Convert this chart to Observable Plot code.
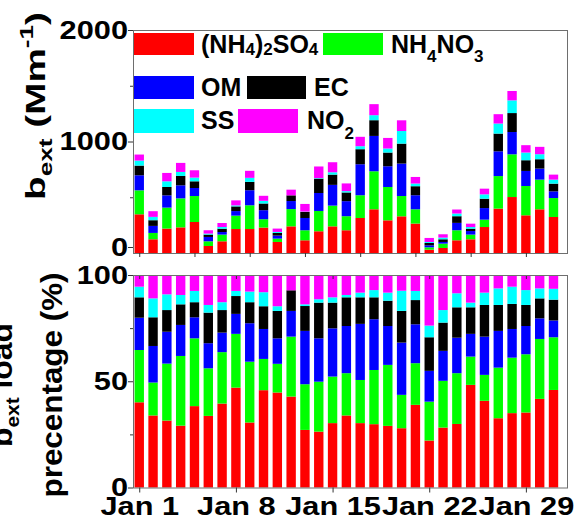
<!DOCTYPE html>
<html>
<head>
<meta charset="utf-8">
<script src="https://cdn.jsdelivr.net/npm/d3@7"></script>
<script src="https://cdn.jsdelivr.net/npm/@observablehq/plot@0.6"></script>
<style>
  body { margin: 0; background: #fff; }
  #chart { position: relative; width: 574px; height: 519px; overflow: hidden; }
  #chart svg { display: block; }
</style>
</head>
<body>
<div id="chart"></div>
<script>
// Days of January
const days = d3.range(1, 32);
const topTickDays = [1, 5, 9, 13, 17, 21, 25, 29];
const labelDays = [1, 8, 15, 22, 29];
const monthLabel = "Jan";

const species = ["(NH4)2SO4", "NH4NO3", "OM", "EC", "SS", "NO2"];
const speciesColors = ["#ff0000", "#00ff00", "#0000ff", "#000000", "#00ffff", "#ff00ff"];

// Light extinction by species (Mm-1)
const extSulfate = [347, 123, 219, 230, 278, 63, 105, 215, 215, 228, 99, 239, 114, 195, 239, 204, 314, 392, 293, 329, 264, 30, 45, 114, 123, 233, 398, 502, 338, 392, 323];
const extNitrate = [215, 57, 188, 260, 233, 42, 60, 120, 213, 75, 30, 155, 90, 182, 186, 126, 204, 341, 299, 182, 128, 21, 39, 90, 42, 66, 292, 383, 263, 266, 170];
const extOM      = [135, 63, 110, 117, 72, 39, 23, 41, 135, 81, 27, 72, 110, 161, 186, 135, 278, 317, 186, 291, 126, 18, 15, 66, 32, 104, 222, 200, 135, 99, 60];
const extEC      = [87, 51, 75, 84, 60, 21, 30, 42, 75, 60, 24, 51, 54, 129, 92, 78, 135, 141, 123, 179, 81, 21, 24, 60, 21, 84, 159, 170, 96, 84, 69];
const extSS      = [45, 30, 51, 36, 33, 9, 15, 9, 36, 24, 9, 0, 3, 5, 21, 12, 27, 45, 36, 113, 24, 9, 15, 24, 15, 39, 90, 114, 69, 45, 36];
const extNO2     = [54, 51, 75, 81, 66, 30, 36, 45, 63, 45, 30, 51, 69, 104, 90, 69, 84, 99, 95, 96, 59, 36, 30, 36, 30, 51, 84, 84, 66, 66, 45];

// Share of total extinction by species (%)
const pctSulfate = [40.1, 33.9, 31.5, 29.1, 38.3, 33.7, 39.5, 47.0, 30.6, 45.8, 44.7, 42.8, 27.1, 26.3, 30.3, 33.9, 30.3, 29.8, 29.0, 27.9, 38.9, 22.1, 28.2, 29.9, 48.3, 40.8, 32.6, 35.0, 35.3, 41.7, 45.9];
const pctNitrate = [24.6, 15.5, 26.8, 32.8, 31.9, 22.4, 24.2, 25.3, 28.6, 14.7, 13.5, 28.2, 21.5, 23.5, 21.9, 19.9, 20.3, 25.5, 28.7, 15.7, 19.6, 18.3, 22.0, 23.9, 13.3, 12.2, 23.8, 26.1, 27.4, 28.2, 24.8];
const pctOM      = [15.2, 17.2, 15.0, 14.6, 9.9, 11.8, 9.2, 9.4, 18.1, 14.1, 12.0, 12.1, 25.1, 20.4, 22.7, 22.2, 26.4, 23.9, 18.3, 24.6, 18.3, 14.5, 14.1, 16.7, 10.7, 18.0, 17.3, 13.5, 13.3, 9.7, 7.9];
const pctEC      = [9.6, 13.5, 10.2, 9.7, 7.1, 14.4, 10.6, 8.4, 9.9, 10.7, 12.9, 9.7, 11.7, 16.8, 12.1, 13.5, 12.5, 10.3, 11.9, 14.9, 11.4, 15.8, 13.3, 14.3, 12.5, 14.9, 12.2, 11.8, 9.9, 9.4, 9.8];
const pctSS      = [5.0, 8.9, 7.4, 4.4, 5.3, 3.6, 3.7, 2.4, 5.0, 6.6, 2.2, 0, 0.8, 1.6, 2.5, 1.1, 2.2, 3.4, 3.8, 9.5, 4.3, 5.5, 5.9, 6.6, 2.2, 5.8, 7.8, 8.1, 7.0, 4.7, 5.1];
const pctNO2     = [5.5, 11.0, 9.1, 9.4, 7.5, 14.1, 12.8, 7.5, 7.8, 8.1, 14.7, 7.2, 13.8, 11.4, 10.5, 9.4, 8.3, 7.1, 8.3, 7.4, 7.5, 23.8, 16.5, 8.6, 13.0, 8.3, 6.3, 5.5, 7.1, 6.3, 6.3];

// Long-format rows for stacking
function toRows(series) {
  return species.flatMap((s, i) => days.map((d, j) => ({day: d, species: s, value: series[i][j]})));
}
const extRows = toRows([extSulfate, extNitrate, extOM, extEC, extSS, extNO2]);
const pctRows = toRows([pctSulfate, pctNitrate, pctOM, pctEC, pctSS, pctNO2]);

const FONT = "'Liberation Sans', Arial, Helvetica, sans-serif";
const TICK_FONT = 25;
const xScale = {type: "band", domain: days, paddingInner: 0.32, paddingOuter: 0.375, align: 0.15, round: false, axis: null};
const colorScale = {domain: species, range: speciesColors};
const noLabel = () => "";
const plain = d => String(d);

const chart = document.getElementById("chart");

// Upper panel: absolute extinction
const upper = Plot.plot({
  width: 574, height: 262,
  marginLeft: 133, marginRight: 7, marginTop: 30, marginBottom: 9,
  style: {fontFamily: FONT, fontWeight: "bold", background: "white", overflow: "visible", color: "#000"},
  x: xScale,
  y: {domain: [0, 2000], axis: null},
  color: colorScale,
  marks: [
    Plot.barY(extRows, {x: "day", y: "value", fill: "species", order: species}),
    Plot.frame({stroke: "#6e6e6e"}),
    Plot.axisY({ticks: [1000, 2000], tickSize: 5, tickPadding: 0.5, fontSize: TICK_FONT, tickFormat: plain, label: null, stroke: "#333"}),
    Plot.axisY({ticks: [0], tickSize: 5, tickPadding: 0.5, fontSize: TICK_FONT, dy: -6, tickFormat: plain, label: null, stroke: "#333"}),
    Plot.axisY({ticks: [500, 1500], tickSize: 3, tickFormat: noLabel, label: null, stroke: "#333"}),
    Plot.axisX({ticks: topTickDays, tickSize: 4, tickFormat: noLabel, label: null, stroke: "#333"})
  ]
});

// Lower panel: percentage share
const lower = Plot.plot({
  width: 574, height: 257,
  marginLeft: 133, marginRight: 7, marginTop: 13, marginBottom: 31.5,
  style: {fontFamily: FONT, fontWeight: "bold", background: "white", overflow: "visible", color: "#000"},
  x: xScale,
  y: {domain: [0, 100], axis: null},
  color: colorScale,
  marks: [
    Plot.barY(pctRows, {x: "day", y: "value", fill: "species", order: species}),
    Plot.frame({stroke: "#6e6e6e"}),
    Plot.axisY({ticks: [0, 50, 100], tickSize: 5, tickPadding: 0.5, fontSize: TICK_FONT, tickFormat: plain, label: null, stroke: "#333"}),
    Plot.axisY({ticks: [25, 75], tickSize: 3, tickFormat: noLabel, label: null, stroke: "#333"}),
    Plot.axisX({ticks: labelDays, tickSize: 5, tickPadding: 4.5, fontSize: TICK_FONT,
                tickFormat: d => `${monthLabel} ${d}`, label: null, stroke: "#333"}),
    Plot.axisX({anchor: "top", ticks: labelDays, tickSize: -3, tickFormat: noLabel, label: null, stroke: "#333"})
  ]
});

chart.append(upper, lower);

// Wide lettering: stretch a text element along its own direction
function stretch(el, k) {
  const len = el.getComputedTextLength();
  if (len > 0) {
    el.setAttribute("textLength", (len * k).toFixed(1));
    el.setAttribute("lengthAdjust", "spacingAndGlyphs");
  }
}
function stretchTo(el, target) {
  if (el.getComputedTextLength() > 0) {
    el.setAttribute("textLength", target);
    el.setAttribute("lengthAdjust", "spacingAndGlyphs");
  }
}
for (const svg of [upper, lower]) {
  svg.querySelectorAll('g[aria-label$="tick label"] text').forEach(t => stretch(t, 1.23));
}

// Rich text helper: parts = [[text, fontSize, dy], ...]
function richText(parent, parts, attrs) {
  const t = parent.append("text")
    .attr("font-family", FONT).attr("font-weight", "bold").attr("fill", "#000")
    .attr("text-anchor", "start");
  for (const [k, v] of Object.entries(attrs)) t.attr(k, v);
  for (const [s, size, dy] of parts) {
    t.append("tspan").attr("font-size", size).attr("dy", dy).text(s);
  }
  return t;
}

// Legend inside the upper panel
const up = d3.select(upper);
const legend = up.append("g").attr("aria-label", "legend");
const legendItems = [
  {i: 0, sx: 134, sy: 33, sw: 60, sh: 22, tx: 201, ty: 53, parts: [["(NH", 25, 0], ["4", 17, 2], [")", 25, -2], ["2", 17, 2], ["SO", 25, -2], ["4", 17, 2]]},
  {i: 1, sx: 323, sy: 33, sw: 60, sh: 22, tx: 391, ty: 53, parts: [["NH", 25, 0], ["4", 17, 9], ["NO", 25, -9], ["3", 17, 9]]},
  {i: 2, sx: 134, sy: 76, sw: 60, sh: 23, tx: 201, ty: 96, parts: [["OM", 25, 0]]},
  {i: 3, sx: 247, sy: 76, sw: 59, sh: 23, tx: 314, ty: 96, parts: [["EC", 25, 0]]},
  {i: 4, sx: 134, sy: 109, sw: 60, sh: 24, tx: 201, ty: 129, parts: [["SS", 25, 0]]},
  {i: 5, sx: 238, sy: 109, sw: 60, sh: 24, tx: 307, ty: 129, parts: [["NO", 25, 0], ["2", 17, 10]]}
];
for (const it of legendItems) {
  legend.append("rect")
    .attr("x", it.sx).attr("y", it.sy).attr("width", it.sw).attr("height", it.sh)
    .attr("fill", speciesColors[it.i]);
  richText(legend, it.parts, {x: it.tx, y: it.ty});
}

// Y-axis titles (rotated)
const upperTitle = richText(up,
  [["b", 28, 0], ["ext", 19, 7], [" (Mm", 28, -7], ["-1", 19, -12], [")", 28, 12]],
  {transform: "translate(45,106) rotate(-90)", "text-anchor": "middle"});
stretchTo(upperTitle.node(), 188);

const lo = d3.select(lower);
const lowerTitle1 = richText(lo,
  [["b", 29, 0], ["ext", 19, 7], [" load", 29, -7]],
  {transform: "translate(12,123) rotate(-90)", "text-anchor": "middle"});
stretchTo(lowerTitle1.node(), 124);
const lowerTitle2 = richText(lo,
  [["precentage (%)", 29, 0]],
  {transform: "translate(62,123) rotate(-90)", "text-anchor": "middle"});
stretchTo(lowerTitle2.node(), 225);
</script>
</body>
</html>
